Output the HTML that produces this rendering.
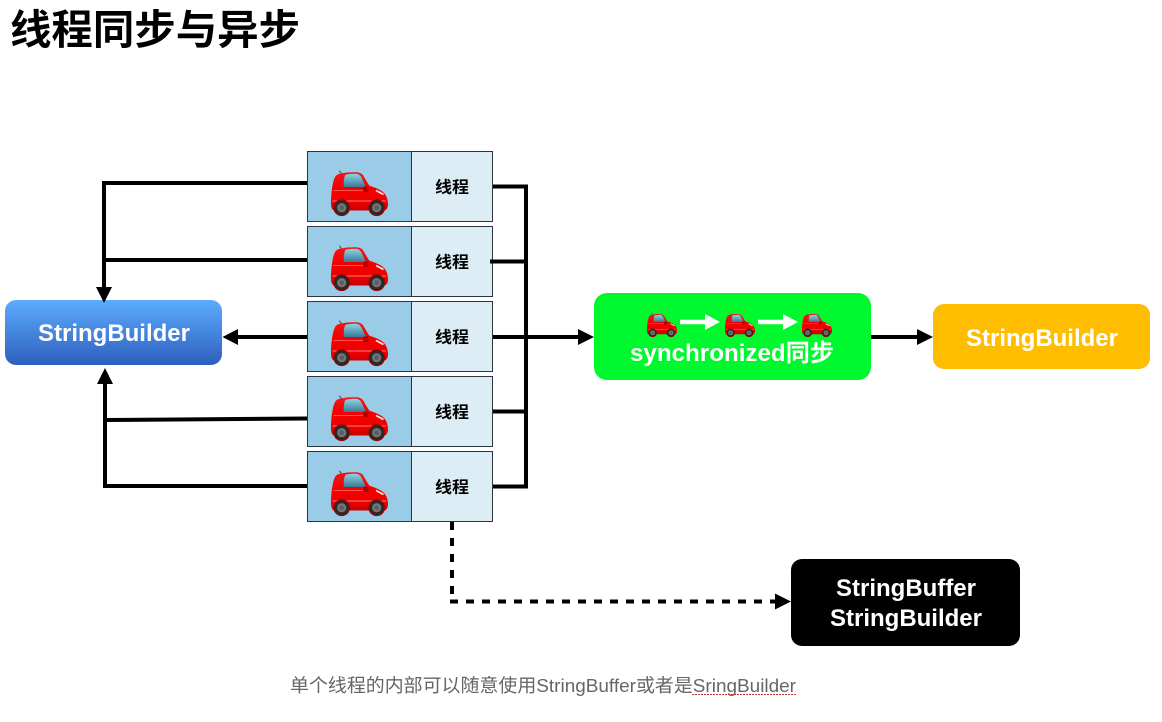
<!DOCTYPE html>
<html lang="zh">
<head>
<meta charset="utf-8">
<title>线程同步与异步</title>
<style>
html,body{margin:0;padding:0;background:#fff;width:1162px;height:722px;overflow:hidden}
svg{display:block}
.cn{font-family:"Liberation Sans","Noto Sans CJK SC",sans-serif}
.w{font-family:"Liberation Sans","Noto Sans CJK SC",sans-serif;font-weight:700;fill:#fff}
.t{font-family:"Noto Sans CJK SC",sans-serif;font-weight:700;font-size:16px;fill:#000}
</style>
</head>
<body>
<svg width="1162" height="722" viewBox="0 0 1162 722" xmlns="http://www.w3.org/2000/svg">
<defs>
<linearGradient id="blue" x1="0" y1="0" x2="0" y2="1"><stop offset="0" stop-color="#5cacff"/><stop offset="1" stop-color="#2e5fbc"/></linearGradient>
<linearGradient id="red" x1="0" y1="0" x2="0" y2="1"><stop offset="0" stop-color="#f01818"/><stop offset=".4" stop-color="#f60000"/><stop offset=".8" stop-color="#ec0000"/><stop offset="1" stop-color="#c80000"/></linearGradient>
<linearGradient id="glass" x1="0" y1="0" x2="0" y2="1"><stop offset="0" stop-color="#8fd4e0"/><stop offset="1" stop-color="#3a7a9a"/></linearGradient>
<symbol id="car" viewBox="0 0 57 44" overflow="visible">
<path d="M8.300 -.3L11 3.500" stroke="#555" stroke-width="1.100"/>
<path d="M10 2.500C15 1.300 21 1 25 1.300C29 1.600 31 2.600 32.500 5C34.500 8.500 36.500 12 38.500 14.800C43.500 16.500 49.500 18.500 52.500 21.500C55.500 24.500 56.500 28 56.800 31C57.300 34 57 37.800 54 39.500L3 39.500C.6 38.800 0 35 0 31.700C0 26 .6 19 1.700 13.500C2.500 9 3.800 5.500 5.700 4C7 3.200 8.500 2.800 10 2.500Z" fill="url(#red)"/>
<path d="M14.500 3.800C18 2.900 22 2.700 25 2.800C27.800 3 29.300 4.300 30.500 6.500C32 9.500 33.500 12.500 34.800 16L12.800 16C12.500 12 12.800 6.500 14.500 3.800Z" fill="url(#glass)"/>
<path d="M1.500 30H55" stroke="#ff7a7a" stroke-width=".9"/>
<path d="M2.500 19.500H32" stroke="#ff5050" stroke-width=".9"/>
<path d="M45 19.500L52.500 23.500" stroke="#ffdcdc" stroke-width="1.800"/>
<rect x="32.300" y="15.500" width="5" height="5.500" rx="1" fill="#b20000"/>
<circle cx="10.700" cy="36.700" r="8.400" fill="#a00000"/>
<circle cx="45.700" cy="36.700" r="8.400" fill="#a00000"/>
<circle cx="10.700" cy="36.700" r="7.300" fill="#2a2a2a"/><circle cx="10.700" cy="36.700" r="4.600" fill="#757575"/><circle cx="10.700" cy="36.700" r="2.300" fill="#5c5c5c"/>
<circle cx="45.700" cy="36.700" r="7.300" fill="#2a2a2a"/><circle cx="45.700" cy="36.700" r="4.600" fill="#757575"/><circle cx="45.700" cy="36.700" r="2.300" fill="#5c5c5c"/>
</symbol>
<symbol id="row" viewBox="0 0 187 71" overflow="visible">
<rect x=".5" y=".5" width="104" height="70" fill="#9acce8" stroke="#2b3440"/>
<rect x="104.500" y=".5" width="81" height="70" fill="#dcedf6" stroke="#2b3440"/>
</symbol>
</defs>

<text x="10" y="44" class="cn" font-size="41" font-weight="700" textLength="290" lengthAdjust="spacingAndGlyphs">线程同步与异步</text>

<rect x="5" y="300" width="217" height="65" rx="11" fill="url(#blue)"/>

<!-- left connectors -->
<g stroke="#000" stroke-width="4" fill="none">
<path d="M307 183H104V289"/>
<path d="M307 260H104"/>
<path d="M307 337H237"/>
<path d="M307 418.500L105 420"/>
<path d="M307 486H105V383"/>
<!-- right connectors -->
<path d="M493 186.500H526V486.500H493"/>
<path d="M490 261.500H526"/>
<path d="M493 337H580"/>
<path d="M493 411.500H526"/>
<path d="M871 337H919"/>
<path d="M452 522V601.500" stroke-dasharray="8 8"/>
<path d="M450 601.500H777" stroke-dasharray="8 8"/>
</g>
<path d="M96 287H112L104 303Z"/>
<path d="M222.500 337L238 329V345Z"/>
<path d="M105 368L113 384H97Z"/>
<path d="M594 337L578 329V345Z"/>
<path d="M933 337L917 329V345Z"/>
<path d="M791 601.500L775 593.500V609.500Z"/>

<!-- thread rows -->
<g>
<use href="#row" x="307" y="151" width="187" height="71"/>
<use href="#row" x="307" y="226" width="187" height="71"/>
<use href="#row" x="307" y="301" width="187" height="71"/>
<use href="#row" x="307" y="376" width="187" height="71"/>
<use href="#row" x="307" y="451" width="187" height="71"/>
</g>
<path d="M490 261.500H494" stroke="#000" stroke-width="4"/>
<use href="#car" x="331" y="171" width="57" height="44"/>
<use href="#car" x="331" y="246" width="57" height="44"/>
<use href="#car" x="331" y="321" width="57" height="44"/>
<use href="#car" x="331" y="396" width="57" height="44"/>
<use href="#car" x="331" y="471" width="57" height="44"/>
<g text-anchor="middle">
<text x="452" y="192.500" class="t" textLength="34" lengthAdjust="spacingAndGlyphs">线程</text>
<text x="452" y="267.500" class="t" textLength="34" lengthAdjust="spacingAndGlyphs">线程</text>
<text x="452" y="342.500" class="t" textLength="34" lengthAdjust="spacingAndGlyphs">线程</text>
<text x="452" y="417.500" class="t" textLength="34" lengthAdjust="spacingAndGlyphs">线程</text>
<text x="452" y="492.500" class="t" textLength="34" lengthAdjust="spacingAndGlyphs">线程</text>
</g>

<!-- boxes -->
<text x="38" y="341" class="w" font-size="24" textLength="152" lengthAdjust="spacingAndGlyphs">StringBuilder</text>

<rect x="594" y="293" width="277" height="87" rx="13" fill="#00f82f"/>
<use href="#car" x="647" y="313" width="30" height="24"/>
<use href="#car" x="725" y="313" width="30" height="24"/>
<use href="#car" x="802" y="313" width="30" height="24"/>
<path d="M680 322H707M758 322H785" stroke="#fff" stroke-width="4.500"/>
<path d="M720 322L705 314V330ZM798 322L783 314V330Z" fill="#fff"/>
<text x="630" y="361" class="w" font-size="24" textLength="204" lengthAdjust="spacingAndGlyphs">synchronized同步</text>

<rect x="933" y="304" width="217" height="65" rx="11" fill="#ffbd00"/>
<text x="966" y="346" class="w" font-size="24" textLength="152" lengthAdjust="spacingAndGlyphs">StringBuilder</text>

<rect x="791" y="559" width="229" height="87" rx="11" fill="#000"/>
<text x="836" y="596" class="w" font-size="24" textLength="140" lengthAdjust="spacingAndGlyphs">StringBuffer</text>
<text x="830" y="626" class="w" font-size="24" textLength="152" lengthAdjust="spacingAndGlyphs">StringBuilder</text>

<text x="290" y="692" class="cn" font-size="18.500" fill="#666" textLength="506" lengthAdjust="spacingAndGlyphs">单个线程的内部可以随意使用StringBuffer或者是SringBuilder</text>
<path d="M692 694.500H796" stroke="#c0392b" stroke-width="1" stroke-dasharray="2 1"/>
</svg>
</body>
</html>
